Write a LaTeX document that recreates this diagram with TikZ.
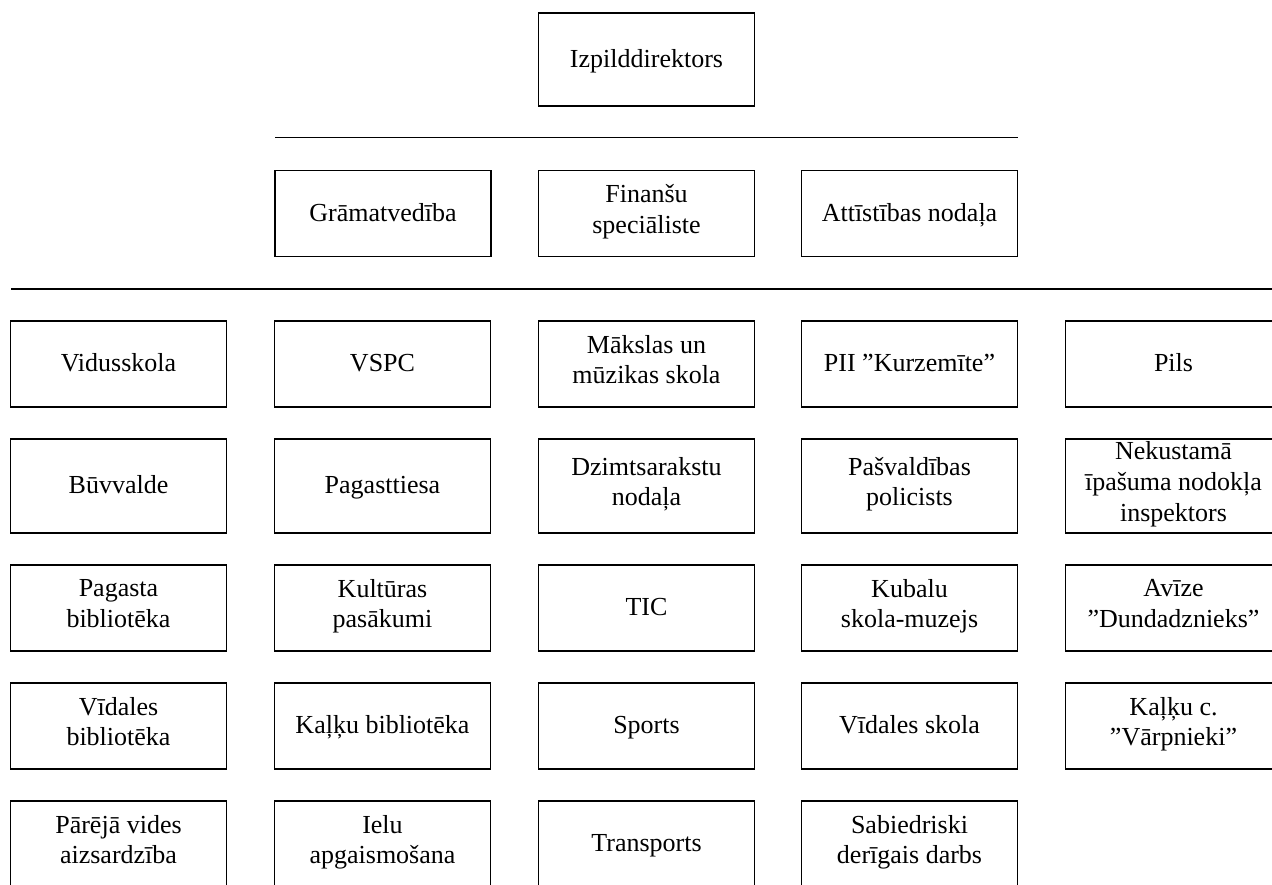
\documentclass[tikz,border=0pt]{standalone}
\usepackage{fontspec}
\setmainfont{Liberation Serif}
\usepackage{tikz}

\begin{document}
\begin{tikzpicture}[x=0.5pt,y=-0.5pt,
		unit/.style={draw,line width=0.75pt,minimum width=108pt,minimum height=43pt,inner sep=0pt,outer sep=0pt,align=center,font=\fontsize{13pt}{15.3pt}\selectfont,execute at begin node=\rule{0pt}{12.3pt},execute at end node=\strut},
		tallunit/.style={unit,minimum height=47pt}]
		\useasboundingbox (0,0) rectangle (1272,884);
		\clip (0,0) rectangle (1272,884);
		% head
		\node[unit,minimum height=46.5pt] (dir) at (646.5,59.5) {Izpilddirektors};
		\coordinate (barAl) at (275,137.7);
		\coordinate (barAr) at (1018,137.7);
		\draw[line width=0.75pt] (barAl) -- (barAr);
		\node[unit] (gram) at (383,213.5) {Grāmatvedība};
		\node[unit] (fin) at (646.5,213.5) {Finanšu\\speciāliste};
		\node[unit] (att) at (909.5,213.5) {Attīstības nodaļa};
		\coordinate (barBl) at (11,289);
		\coordinate (barBr) at (1272,289);
		\draw[line width=0.75pt] (barBl) -- (barBr);
		% row 1
		\node[unit] (vsk) at (118.5,364) {Vidusskola};
		\node[unit] (vspc) at (382.5,364) {VSPC};
		\node[unit] (mms) at (646.5,364) {Mākslas un\\mūzikas skola};
		\node[unit] (pii) at (909.5,364) {PII ”Kurzemīte”};
		\node[unit] (pils) at (1173.5,364) {Pils};
		% row 2
		\node[tallunit] (buv) at (118.5,486) {Būvvalde};
		\node[tallunit] (pagt) at (382.5,486) {Pagasttiesa};
		\node[tallunit] (dzimt) at (646.5,486) {Dzimtsarakstu\\nodaļa};
		\node[tallunit] (pol) at (909.5,486) {Pašvaldības\\policists};
		\node[tallunit] (nek) at (1173.5,486) {Nekustamā\\īpašuma nodokļa\\inspektors};
		% row 3
		\node[unit] (pbib) at (118.5,608) {Pagasta\\bibliotēka};
		\node[unit] (kult) at (382.5,608) {Kultūras\\pasākumi};
		\node[unit] (tic) at (646.5,608) {TIC};
		\node[unit] (kub) at (909.5,608) {Kubalu\\skola-muzejs};
		\node[unit] (aviz) at (1173.5,608) {Avīze\\”Dundadznieks”};
		% row 4
		\node[unit] (vbib) at (118.5,726) {Vīdales\\bibliotēka};
		\node[unit] (kbib) at (382.5,726) {Kaļķu bibliotēka};
		\node[unit] (sport) at (646.5,726) {Sports};
		\node[unit] (vsk2) at (909.5,726) {Vīdales skola};
		\node[unit] (varp) at (1173.5,726) {Kaļķu c.\\”Vārpnieki”};
		% row 5
		\node[unit] (vide) at (118.5,844) {Pārējā vides\\aizsardzība};
		\node[unit] (ielu) at (382.5,844) {Ielu\\apgaismošana};
		\node[unit] (transp) at (646.5,844) {Transports};
		\node[unit] (sab) at (909.5,844) {Sabiedriski\\derīgais darbs};
	\end{tikzpicture}
\end{document}
